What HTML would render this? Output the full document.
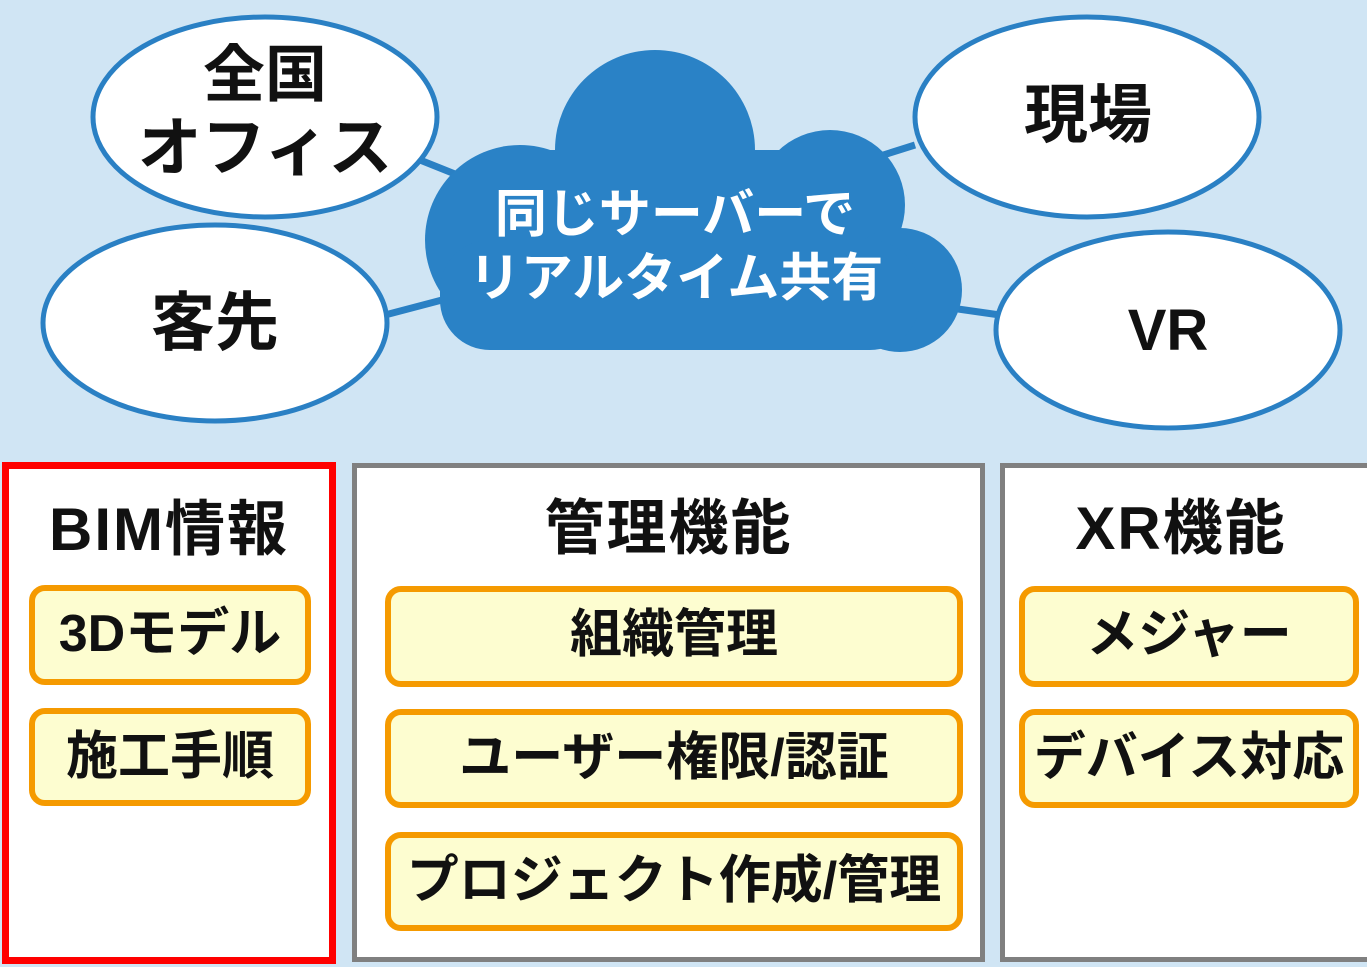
<!DOCTYPE html>
<html><head><meta charset="utf-8"><style>
body{margin:0;width:1367px;height:967px;background:#d0e5f4;position:relative;overflow:hidden;font-family:"Liberation Sans","Noto Sans CJK JP",sans-serif;font-weight:bold;}
.p{position:absolute;background:#fff;box-sizing:border-box;}
.t{position:absolute;left:0;right:0;text-align:center;font-size:60px;top:26px;line-height:70px;color:#111;letter-spacing:2px;}
.i{position:absolute;box-sizing:border-box;border:6px solid #f59a00;background:#fdfdd0;border-radius:16px;text-align:center;font-size:52px;line-height:86px;color:#111;white-space:nowrap;letter-spacing:0px;}
svg{position:absolute;left:0;top:0}
</style></head><body>
<svg width="1367" height="460">
<g stroke="#2a80c4" stroke-width="7">
<line x1="420" y1="160" x2="520" y2="200"/>
<line x1="385" y1="315" x2="480" y2="290"/>
<line x1="915" y1="145" x2="820" y2="175"/>
<line x1="1000" y1="315" x2="930" y2="305"/>
</g>
<g fill="#2a82c6">
<circle cx="655" cy="150" r="100"/>
<circle cx="520" cy="240" r="95"/>
<circle cx="830" cy="205" r="75"/>
<circle cx="900" cy="290" r="62"/>
<rect x="440" y="240" width="480" height="110" rx="50"/>
<rect x="520" y="150" width="330" height="150"/>
</g>
<g fill="#fff" stroke="#2a80c4" stroke-width="5">
<ellipse cx="265" cy="117" rx="172" ry="100"/>
<ellipse cx="215" cy="323" rx="172" ry="98"/>
<ellipse cx="1087" cy="117" rx="172" ry="100"/>
<ellipse cx="1168" cy="330" rx="172" ry="98"/>
</g>
<g font-family="Liberation Sans,Noto Sans CJK JP,sans-serif" font-weight="bold" text-anchor="middle">
<text x="675" y="232" fill="#fff" font-size="52">同じサーバーで</text>
<text x="676" y="296" fill="#fff" font-size="52">リアルタイム共有</text>
<text x="265" y="96" font-size="62" fill="#111">全国</text>
<text x="265" y="170" font-size="64" fill="#111">オフィス</text>
<text x="215" y="345" font-size="64" fill="#111">客先</text>
<text x="1088" y="137" font-size="64" fill="#111">現場</text>
<text x="1168" y="350" font-size="58" fill="#111">VR</text>
</g>
</svg>
<div class="p" style="left:2px;top:462px;width:334px;height:502px;border:7px solid #f00">
<div class="t" style="top:26px">BIM情報</div>
<div class="i" style="left:20px;top:116px;width:282px;height:100px">3Dモデル</div>
<div class="i" style="left:20px;top:239px;width:282px;height:98px">施工手順</div>
</div>
<div class="p" style="left:352px;top:463px;width:633px;height:499px;border:5px solid #808080">
<div class="t">管理機能</div>
<div class="i" style="left:28px;top:118px;width:578px;height:101px">組織管理</div>
<div class="i" style="left:28px;top:241px;width:578px;height:99px">ユーザー権限/認証</div>
<div class="i" style="left:28px;top:364px;width:578px;height:99px">プロジェクト作成/管理</div>
</div>
<div class="p" style="left:1000px;top:463px;width:372px;height:499px;border:5px solid #808080">
<div class="t" style="left:0;right:10px">XR機能</div>
<div class="i" style="left:14px;top:118px;width:340px;height:101px">メジャー</div>
<div class="i" style="left:14px;top:241px;width:340px;height:99px">デバイス対応</div>
</div>
</body></html>
